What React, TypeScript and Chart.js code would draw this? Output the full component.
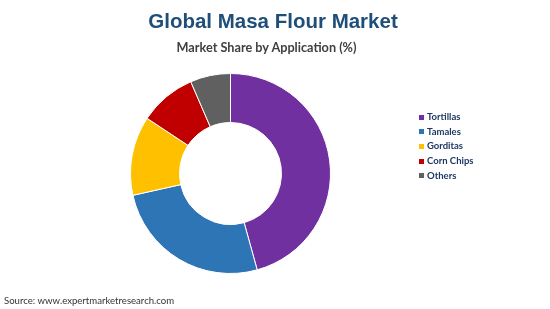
import React, { useEffect, useRef } from "react";
import { Chart, registerables } from "chart.js";

Chart.register(...registerables);

const categories = ["Tortillas", "Tamales", "Gorditas", "Corn Chips", "Others"];
const shares = [45.7, 25.8, 12.8, 9.2, 6.5];
const colors = ["#7030A0", "#2E75B6", "#FFC000", "#C00000", "#606060"];

const titleText = "Global Masa Flour Market";
const subtitleText = "Market Share by Application (%)";
const sourceText = "Source: www.expertmarketresearch.com";

export default function App() {
  const ref = useRef<HTMLCanvasElement | null>(null);

  useEffect(() => {
    if (!ref.current) return;
    const chart = new Chart(ref.current, {
      type: "doughnut",
      data: {
        labels: categories,
        datasets: [
          {
            data: shares,
            backgroundColor: colors,
            borderColor: "#ffffff",
            borderWidth: 1,
          },
        ],
      },
      options: {
        animation: false,
        responsive: false,
        cutout: "51%",
        layout: { padding: { left: 130, right: 219, top: 73, bottom: 35 } },
        plugins: {
          legend: { display: false },
          title: { display: false },
          tooltip: { enabled: false },
        },
      },
    });
    return () => chart.destroy();
  }, []);

  return (
    <div style={{ position: "fixed", left: 0, top: 0, width: 550, height: 309, background: "#fff", overflow: "hidden" }}>
      <canvas ref={ref} width={550} height={309} style={{ position: "absolute", left: 0, top: 0, width: 550, height: 309 }} />
      <div
        style={{
          position: "absolute",
          left: 0,
          width: 546,
          top: 8,
          textAlign: "center",
          fontFamily: "'Liberation Sans', Arial, sans-serif",
          fontWeight: "bold",
          fontSize: 20.5,
          color: "#1F4E79",
          lineHeight: "26px",
        }}
      >
        {titleText}
      </div>
      <div
        style={{
          position: "absolute",
          left: 0,
          width: 533,
          top: 38,
          textAlign: "center",
          fontFamily: "Lato, sans-serif",
          fontWeight: "bold",
          fontSize: 12.7,
          color: "#404040",
          lineHeight: "18px",
        }}
      >
        {subtitleText}
      </div>
      <div style={{ position: "absolute", left: 419, top: 110 }}>
        {categories.map((c, i) => (
          <div key={c} style={{ display: "flex", alignItems: "center", height: 14.6 }}>
            <span style={{ display: "inline-block", width: 5, height: 5, background: colors[i], marginRight: 3 }} />
            <span
              style={{
                fontFamily: "Lato, sans-serif",
                fontWeight: "bold",
                fontSize: 9.5,
                color: "#1F3864",
                lineHeight: "14px",
              }}
            >
              {c}
            </span>
          </div>
        ))}
      </div>
      <div
        style={{
          position: "absolute",
          left: 4,
          top: 294,
          fontFamily: "Lato, sans-serif",
          fontSize: 9.6,
          color: "#333333",
          lineHeight: "14px",
        }}
      >
        {sourceText}
      </div>
    </div>
  );
}
